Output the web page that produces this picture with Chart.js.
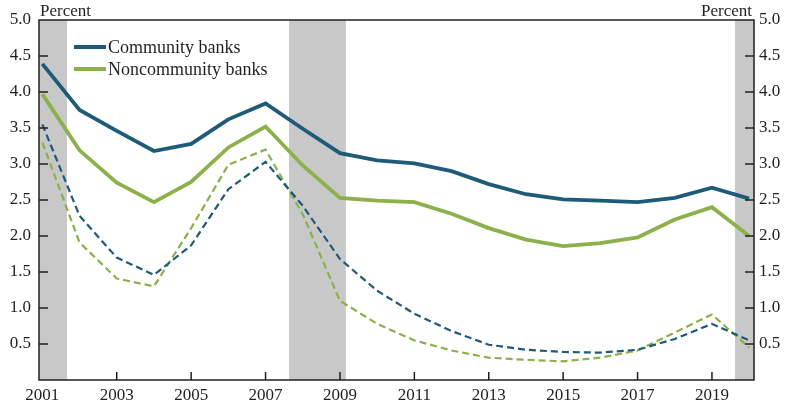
<!DOCTYPE html>
<html><head><meta charset="utf-8">
<script src="https://cdn.jsdelivr.net/npm/chart.js@4"></script>
<style>
html,body{margin:0;padding:0;background:#fff;}
#wrap{position:relative;width:791px;height:408px;font-family:"Liberation Serif",serif;color:#231f20;}
canvas{position:absolute;left:0;top:0;}
.t{position:absolute;font-size:17px;line-height:1;white-space:nowrap;}
.row{position:absolute;left:74px;font-size:18px;line-height:1;white-space:nowrap;display:flex;align-items:center;}
.sw{display:inline-block;width:32px;height:4px;margin-right:2px;}
</style></head><body>
<div id="wrap"><canvas id="c" width="791" height="408"></canvas>
<div class="t" style="left:40px;top:2px">Percent</div>
<div class="t" style="right:39px;top:2px">Percent</div>
<div id="legend"></div>
</div>
<script>
const years = [2001,2002,2003,2004,2005,2006,2007,2008,2009,2010,2011,2012,2013,2014,2015,2016,2017,2018,2019,2020];
const communitySolid = [4.39,3.75,3.46,3.18,3.28,3.62,3.84,3.49,3.15,3.05,3.01,2.90,2.72,2.58,2.51,2.49,2.47,2.53,2.67,2.52];
const noncommunitySolid = [3.97,3.19,2.74,2.47,2.75,3.23,3.52,2.98,2.53,2.49,2.47,2.31,2.11,1.95,1.86,1.90,1.98,2.23,2.40,2.00];
const communityDashed = [3.55,2.28,1.70,1.46,1.87,2.65,3.03,2.42,1.68,1.24,0.92,0.68,0.49,0.42,0.39,0.38,0.42,0.57,0.78,0.55];
const noncommunityDashed = [3.30,1.91,1.41,1.30,2.11,2.99,3.20,2.30,1.10,0.78,0.55,0.41,0.31,0.28,0.26,0.31,0.41,0.66,0.91,0.45];
const xTickLabels = [2001,2003,2005,2007,2009,2011,2013,2015,2017,2019];
const yTickValues = [0.5,1.0,1.5,2.0,2.5,3.0,3.5,4.0,4.5,5.0];
const recessionStart = [2000.91,2007.63,2019.62];
const recessionEnd = [2001.66,2009.16,2020.13];

const TEAL = '#1d5b79', GREEN = '#8cb04a', INK = '#231f20';
const pts = arr => arr.map((v,i)=>({x:years[i], y:v}));

const deco = {
  id:'deco',
  beforeDraw(chart){
    const {ctx, chartArea:a, scales:{x}} = chart;
    ctx.save(); ctx.fillStyle = '#c8c8c8';
    for(let i=0;i<recessionStart.length;i++){
      const x0 = Math.max(a.left, x.getPixelForValue(recessionStart[i]));
      const x1 = Math.min(a.right, x.getPixelForValue(recessionEnd[i]));
      ctx.fillRect(x0, a.top, x1-x0, a.bottom-a.top);
    }
    ctx.restore();
  },
  afterDraw(chart){
    const {ctx, chartArea:a, scales:{x,y}} = chart;
    ctx.save(); ctx.strokeStyle = INK; ctx.lineWidth = 1.5;
    ctx.strokeRect(a.left, a.top, a.right-a.left, a.bottom-a.top);
    ctx.beginPath();
    xTickLabels.forEach(v=>{
      const px = x.getPixelForValue(v);
      if(px-a.left < 6 || a.right-px < 6) return;
      ctx.moveTo(px, a.bottom); ctx.lineTo(px, a.bottom-8);
    });
    yTickValues.forEach(v=>{
      const py = y.getPixelForValue(v);
      if(py-a.top < 3) return;
      ctx.moveTo(a.left, py); ctx.lineTo(a.left+9, py);
      ctx.moveTo(a.right, py); ctx.lineTo(a.right-9, py);
    });
    ctx.stroke(); ctx.restore();
  }
};

const font = {family:'"Liberation Serif", serif', size:17};
const yTicks = {
  color: INK, font, padding: 8,
  callback: v => v === 0 ? '' : v.toFixed(1)
};

const chart = new Chart(document.getElementById('c'), {
  type:'line',
  data:{datasets:[
    {label:'Community banks', data:pts(communitySolid), borderColor:TEAL, borderWidth:3.8, pointRadius:0, tension:0},
    {label:'Noncommunity banks', data:pts(noncommunitySolid), borderColor:GREEN, borderWidth:3.8, pointRadius:0, tension:0},
    {label:'Community banks (dashed)', data:pts(communityDashed), borderColor:TEAL, borderWidth:2.2, borderDash:[7,4], pointRadius:0, tension:0},
    {label:'Noncommunity banks (dashed)', data:pts(noncommunityDashed), borderColor:GREEN, borderWidth:2.2, borderDash:[7,4], pointRadius:0, tension:0}
  ]},
  options:{
    responsive:false, devicePixelRatio:1, animation:false,
    layout:{padding:{top:20,left:0,right:0,bottom:0}},
    plugins:{legend:{display:false}, tooltip:{enabled:false}},
    scales:{
      x:{type:'linear', min:2000.91, max:2020.13,
        afterBuildTicks: s => { s.ticks = xTickLabels.map(v=>({value:v})); },
        afterFit: s => { s.height = 28; },
        grid:{display:false, drawTicks:false}, border:{display:false},
        ticks:{color:INK, font, padding:5, maxRotation:0, autoSkip:false, callback:v=>String(v)}},
      y:{position:'left', min:0, max:5,
        afterBuildTicks: s => { s.ticks = [0].concat(yTickValues).map(v=>({value:v})); },
        afterFit: s => { s.width = 39; },
        grid:{display:false, drawTicks:false}, border:{display:false}, ticks:yTicks},
      y2:{position:'right', min:0, max:5,
        afterBuildTicks: s => { s.ticks = [0].concat(yTickValues).map(v=>({value:v})); },
        afterFit: s => { s.width = 37; },
        grid:{display:false, drawTicks:false}, border:{display:false}, ticks:Object.assign({}, yTicks, {padding:5})}
    }
  },
  plugins:[deco]
});

const leg = document.getElementById('legend');
chart.data.datasets.slice(0,2).forEach((d,i)=>{
  const row = document.createElement('div');
  row.className = 'row';
  row.style.top = (38 + i*22) + 'px';
  row.innerHTML = '<span class="sw" style="background:'+d.borderColor+'"></span><span>'+d.label+'</span>';
  leg.appendChild(row);
});
</script>
</body></html>
